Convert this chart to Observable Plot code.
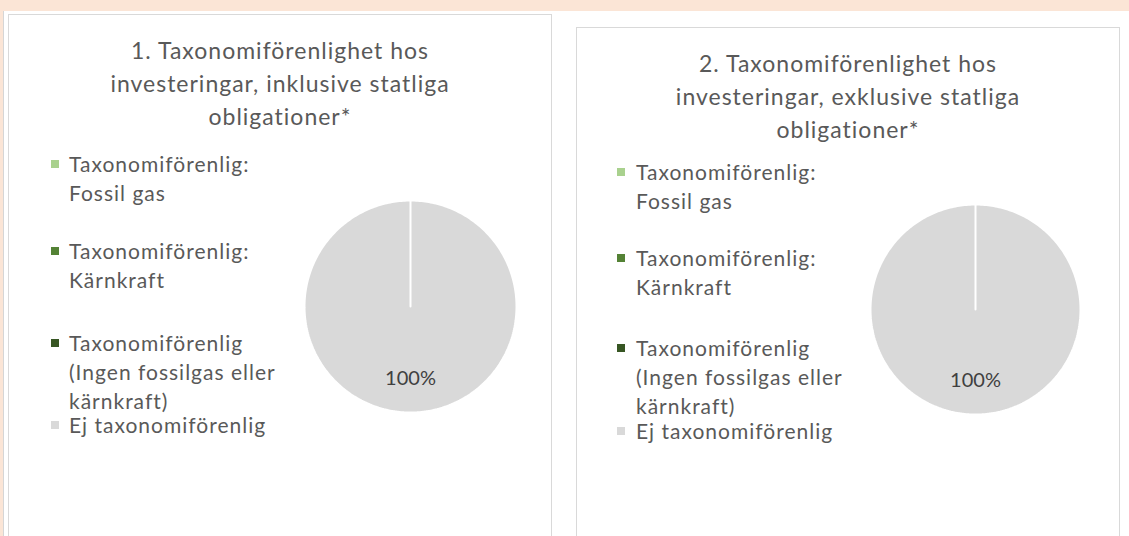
<!DOCTYPE html>
<html>
<head>
<meta charset="utf-8">
<script src="https://cdn.jsdelivr.net/npm/d3@7"></script>
<script src="https://cdn.jsdelivr.net/npm/@observablehq/plot@0.6"></script>
<style>
  html, body { margin: 0; padding: 0; width: 1129px; height: 536px; overflow: hidden; background: #fbe5d6; font-family: Lato, "Open Sans", sans-serif; }
  #sheet { position: absolute; left: 3px; top: 11px; width: 1126px; height: 540px; background: #ffffff; border-left: 1px solid #d6d6d6; }
  .panel { position: absolute; background: #ffffff; border: 1px solid #d9d9d9; box-sizing: border-box; height: 620px; }
  .title { position: absolute; left: 0; right: 0; text-align: center; color: #595959; font-size: 23px; letter-spacing: 1px; line-height: 33px; }
  .entry { position: absolute; color: #595959; font-size: 21px; letter-spacing: 1px; line-height: 29px; white-space: nowrap; }
  .swatch { position: absolute; width: 8px; height: 8px; }
  .pie { position: absolute; }
</style>
</head>
<body>
<div id="sheet"></div>
<script>
// ---- data ----
const categories = [
  "Taxonomiförenlig: Fossil gas",
  "Taxonomiförenlig: Kärnkraft",
  "Taxonomiförenlig (Ingen fossilgas eller kärnkraft)",
  "Ej taxonomiförenlig"
];
const legendLines = [
  ["Taxonomiförenlig:", "Fossil gas"],
  ["Taxonomiförenlig:", "Kärnkraft"],
  ["Taxonomiförenlig", "(Ingen fossilgas eller", "kärnkraft)"],
  ["Ej taxonomiförenlig"]
];
const colors = ["#a9d18e", "#548235", "#375623", "#d9d9d9"];
const title1 = ["1. Taxonomiförenlighet hos", "investeringar, inklusive statliga", "obligationer*"];
const title2 = ["2. Taxonomiförenlighet hos", "investeringar, exklusive statliga", "obligationer*"];
const values1 = [0, 0, 0, 100];
const values2 = [0, 0, 0, 100];

// ---- layout (page pixels) ----
const panels = [
  { left: 8, top: 14, right: 551, title: title1, values: values1,
    titleTop: 33, legendX: 50, textX: 68, baselines: [170, 257, 349, 431],
    cx: 410, cy: 306, r: 106 },
  { left: 576, top: 27, right: 1119, title: title2, values: values2,
    titleTop: 46, legendX: 616, textX: 635, baselines: [178, 264, 354, 437],
    cx: 975, cy: 309, r: 105 }
];

const body = document.body;

function pieChart(values, r) {
  const W = 240;
  const k = W / 2 / r;
  const arcs = d3.pie().sort(null).startAngle(0).endAngle(2 * Math.PI)(values);
  const total = d3.sum(values);
  const marks = [];
  arcs.forEach((a, i) => {
    const pts = [{x: 0, y: 0}];
    const n = Math.max(1, Math.ceil((a.endAngle - a.startAngle) / (Math.PI / 180)));
    for (let s = 0; s <= n; s++) {
      const t = a.startAngle + (a.endAngle - a.startAngle) * s / n;
      pts.push({x: Math.sin(t), y: Math.cos(t)});
    }
    pts.push({x: 0, y: 0});
    marks.push(Plot.line(pts, {x: "x", y: "y", fill: colors[i], stroke: "#ffffff", strokeWidth: 2, curve: "linear", strokeLinejoin: "miter"}));
  });
  const labels = arcs.filter(a => a.value > 0).map(a => {
    const m = (a.startAngle + a.endAngle) / 2;
    return {x: 0.68 * Math.sin(m), y: 0.68 * Math.cos(m), label: Math.round(a.value / total * 100) + "%"};
  });
  marks.push(Plot.text(labels, {x: "x", y: "y", text: "label", fill: "#404040", fontSize: 20, fontFamily: "Lato, 'Open Sans', sans-serif"}));
  return Plot.plot({
    width: W, height: W, margin: 0,
    x: {domain: [-k, k], axis: null},
    y: {domain: [-k, k], axis: null},
    style: {background: "transparent", overflow: "visible"},
    marks
  });
}

panels.forEach(p => {
  const div = document.createElement("div");
  div.className = "panel";
  div.style.left = p.left + "px";
  div.style.top = p.top + "px";
  div.style.width = (p.right - p.left + 1) + "px";
  body.appendChild(div);

  const t = document.createElement("div");
  t.className = "title";
  t.style.top = (p.titleTop - p.top) + "px";
  t.innerHTML = p.title.join("<br>");
  div.appendChild(t);

  legendLines.forEach((lines, i) => {
    const sw = document.createElement("div");
    sw.className = "swatch";
    sw.style.background = colors[i];
    sw.style.left = (p.legendX - p.left) + "px";
    sw.style.top = (p.baselines[i] - 11 - p.top) + "px";
    div.appendChild(sw);
    const e = document.createElement("div");
    e.className = "entry";
    e.style.left = (p.textX - p.left) + "px";
    e.style.top = (p.baselines[i] - 22 - p.top) + "px";
    e.innerHTML = lines.join("<br>");
    e.title = categories[i];
    div.appendChild(e);
  });

  const svg = pieChart(p.values, p.r);
  const holder = document.createElement("div");
  holder.className = "pie";
  holder.style.left = (p.cx - 120 - p.left - 1) + "px";
  holder.style.top = (p.cy - 120 - p.top - 1) + "px";
  holder.appendChild(svg);
  div.appendChild(holder);
});
</script>
</body>
</html>
